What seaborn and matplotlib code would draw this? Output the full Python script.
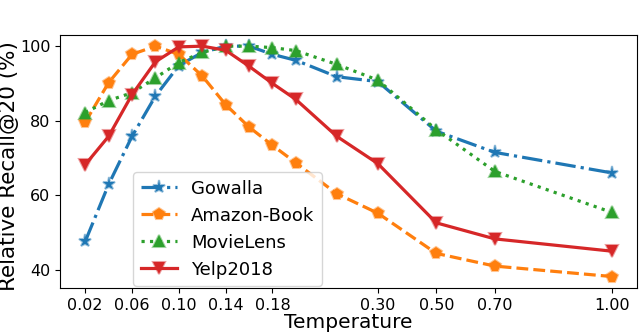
import numpy as np
import pandas as pd
import matplotlib
matplotlib.use("Agg")
import matplotlib.pyplot as plt
import seaborn as sns

# ── Data ────────────────────────────────────────────────
temps = [0.02, 0.04, 0.06, 0.08, 0.10, 0.12, 0.14, 0.16, 0.18, 0.20,
         0.25, 0.30, 0.50, 0.70, 1.00]
gowalla   = [47.6, 62.9, 75.8, 86.6, 94.8, 98.3, 100.0, 100.0, 97.8, 96.2,
             91.8, 90.5, 77.2, 71.5, 66.0]
amazon    = [79.6, 90.2, 97.8, 100.0, 97.8, 92.0, 84.3, 78.3, 73.4, 68.7,
             60.4, 55.2, 44.4, 41.0, 38.2]
movielens = [82.2, 85.4, 87.5, 91.5, 95.6, 98.3, 100.0, 100.0, 99.6, 98.8,
             95.1, 90.9, 77.6, 66.4, 55.4]
yelp      = [68.2, 75.8, 87.0, 95.8, 99.8, 100.0, 98.9, 94.6, 90.0, 85.7,
             75.8, 68.5, 52.6, 48.3, 45.0]
xticks = [0.02, 0.06, 0.10, 0.14, 0.18, 0.30, 0.50, 0.70, 1.00]

series = {"Gowalla": gowalla, "Amazon-Book": amazon,
          "MovieLens": movielens, "Yelp2018": yelp}
df = pd.DataFrame({"Temperature": temps, **series})

# ── Styles ──────────────────────────────────────────────
STYLE = {
    "Gowalla":     dict(color="#1f77b4", marker="*", ls="-.", ms=9.5),
    "Amazon-Book": dict(color="#ff7f0e", marker="p", ls="--", ms=8.5),
    "MovieLens":   dict(color="#2ca02c", marker="^", ls=":", ms=8.5),
    "Yelp2018":    dict(color="#d62728", marker="v", ls="-", ms=8.5),
}

# piecewise-linear x axis (uneven spacing of the original)
BP_T = [-1.0, 0.02, 0.20, 0.30, 0.50, 0.70, 1.00, 2.0]
BP_P = [-51.0, 0.0, 9.0, 12.5, 15.0, 17.5, 22.5, 22.5 + 5 / 0.3]

def fwd(t):
    return np.interp(t, BP_T, BP_P)

def inv(p):
    return np.interp(p, BP_P, BP_T)

fig = plt.figure(figsize=(6.4, 3.33), dpi=100)
ax = fig.add_axes([0.094, 0.135, 0.901, 0.761])
ax.set_xscale("function", functions=(fwd, inv))

for name in series:
    st = STYLE[name]
    sns.lineplot(data=df, x="Temperature", y=name, ax=ax, label=name,
                 color=st["color"], marker=st["marker"], linestyle=st["ls"],
                 linewidth=2.3, markersize=st["ms"],
                 markeredgecolor=matplotlib.colors.to_rgba(st["color"], 0.45),
                 markeredgewidth=1.5)

ax.set_xlim(-0.0014, 1.064)
ax.set_xticks(xticks)
ax.set_xticklabels([f"{t:.2f}" for t in xticks])
ax.set_yticks([40, 60, 80, 100])
ax.tick_params(labelsize=11.5)
ax.set_xlabel("Temperature", fontsize=14.5, labelpad=0)
ax.set_ylabel("Relative Recall@20 (%)", fontsize=15.5)
ax.yaxis.set_label_coords(-0.072, 0.482)
ax.legend(loc="lower left", bbox_to_anchor=(0.127, 0.008), borderaxespad=0,
          fontsize=13, framealpha=0.8)

fig.savefig("out.png", dpi=100)
